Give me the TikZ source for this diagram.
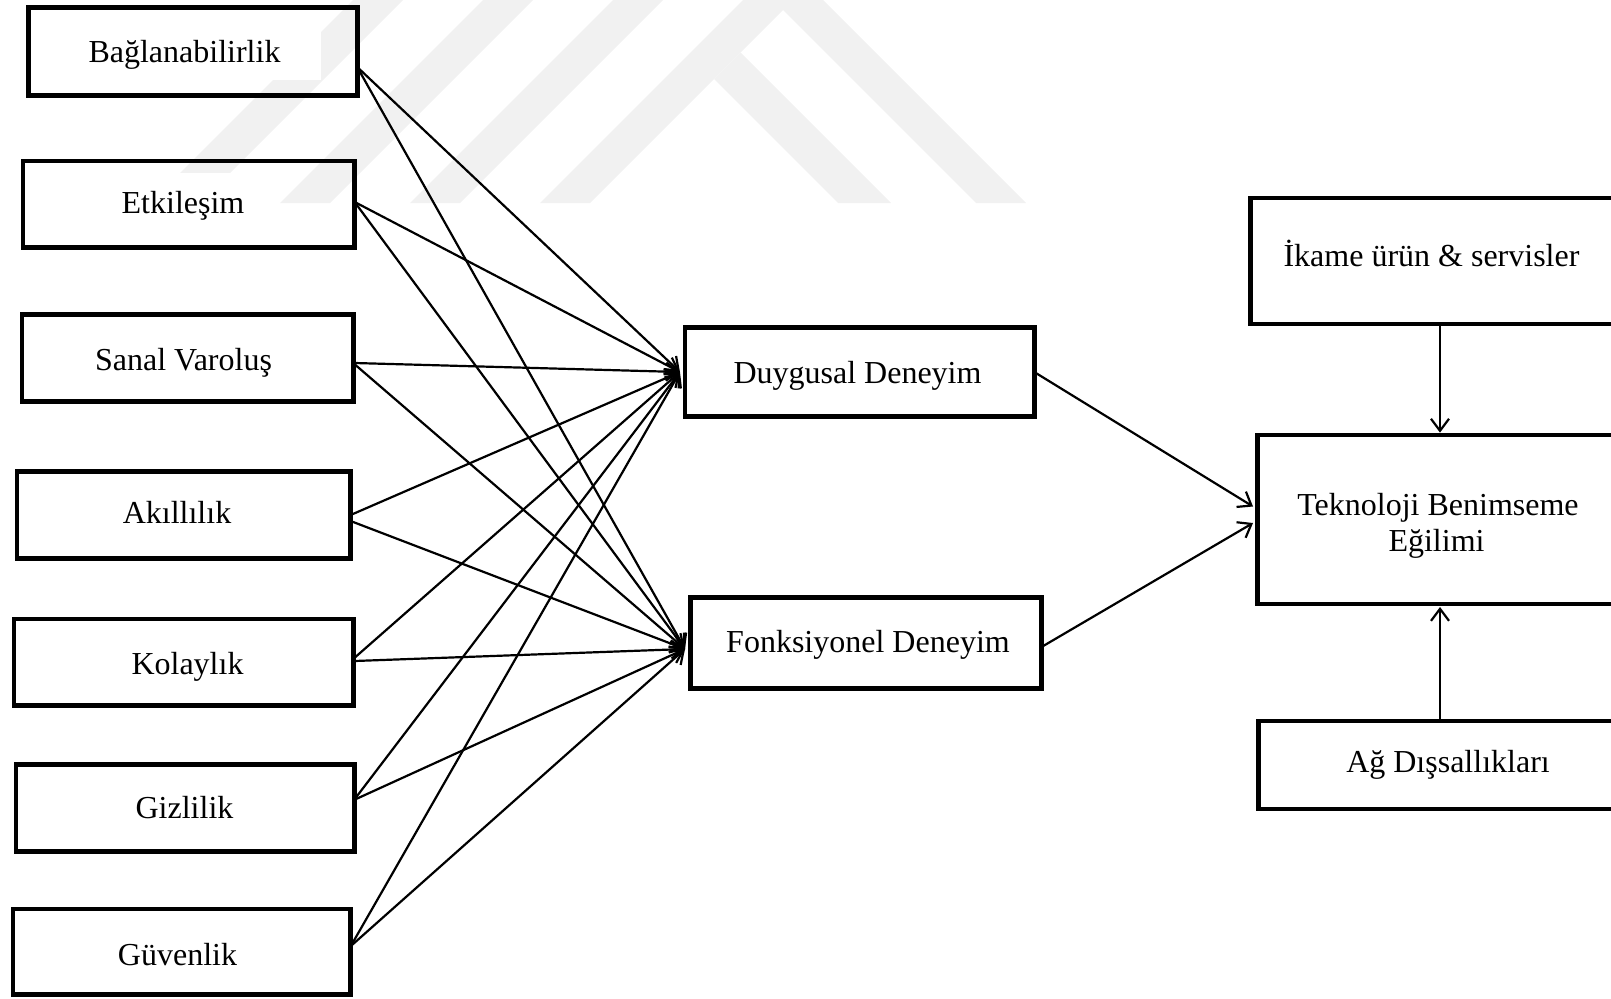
\documentclass[tikz,border=0pt]{standalone}
\usepackage{fontspec}
\setmainfont{Liberation Serif}
\usetikzlibrary{arrows.meta}
\definecolor{wm}{HTML}{F1F1F1}
\begin{document}
\begin{tikzpicture}[x=0.5pt,y=-0.5pt,
  box/.style={draw, line width=2.4pt, inner sep=0pt, outer sep=0pt},
  lbl/.style={font=\fontsize{16pt}{18pt}\selectfont, inner sep=0pt, anchor=base},
  link/.style={line width=1.1pt, -{Straight Barb[length=6pt,width=9pt]}}]
\useasboundingbox (0,0) rectangle (1611,998);
\clip (0,0) rectangle (1611,998);

% faint background emblem: slanted bars and an open chevron
\fill[wm] (353,0) -- (403,0) -- (200,203) -- (150,203) -- cycle;
\fill[wm] (483,0) -- (533,0) -- (330,203) -- (280,203) -- cycle;
\fill[wm] (613,0) -- (663,0) -- (460,203) -- (410,203) -- cycle;
\fill[wm] (540,203) -- (743,0) -- (823,0) -- (1026,203) -- (976,203)
          -- (783,10) -- (590,203) -- cycle;
\fill[wm] (714,79) -- (740.5,52.5) -- (891,203) -- (838,203) -- cycle;

% white text-box backgrounds
\fill[white] (87,22) rectangle (321,80);
\fill[white] (115,173) rectangle (279,235);

% antecedent boxes
\node[box, minimum width=164.55pt, minimum height=43.9pt]  (b1) at (192.65,51.3) {};
\node[box, minimum width=165.85pt, minimum height=43.35pt] (b2) at (188.75,204.25) {};
\node[box, minimum width=165.6pt,  minimum height=43.35pt] (b3) at (187.5,357.75) {};
\node[box, minimum width=166.85pt, minimum height=43.6pt]  (b4) at (183.75,515) {};
\node[box, minimum width=169.6pt,  minimum height=43.35pt] (b5) at (183.5,662.25) {};
\node[box, minimum width=169.1pt,  minimum height=43.2pt]  (b6) at (185,807.9) {};
\node[box, minimum width=168.95pt, minimum height=42.65pt] (b7) at (181.85,951.55) {};

% experience boxes
\node[box, minimum width=174.65pt, minimum height=44.5pt] (d) at (859.6,372) {};
\node[box, minimum width=175.5pt,  minimum height=45.4pt] (f) at (866,643) {};

% outcome and moderators
\node[box, minimum width=189.6pt, minimum height=63pt]   (ik) at (1440,261) {};
\node[box, minimum width=182.6pt, minimum height=84.5pt] (tk) at (1440,519.5) {};
\node[box, minimum width=181.6pt, minimum height=44pt]   (ag) at (1440,765) {};

% labels
\node[lbl] (t1) at (184.5,62)  {Bağlanabilirlik};
\node[lbl] (t2) at (183,213)   {Etkileşim};
\node[lbl] (t3) at (183.5,370) {Sanal Varoluş};
\node[lbl] (t4) at (177,523)   {Akıllılık};
\node[lbl] (t5) at (187.5,674) {Kolaylık};
\node[lbl] (t6) at (184.5,818) {Gizlilik};
\node[lbl] (t7) at (177.5,965) {Güvenlik};
\node[lbl] (td) at (857.5,383) {Duygusal Deneyim};
\node[lbl] (tf) at (868,652)   {Fonksiyonel Deneyim};
\node[lbl] (tik) at (1431.5,266) {İkame ürün \& servisler};
\node[lbl] (ttk1) at (1438,515)  {Teknoloji Benimseme};
\node[lbl] (ttk2) at (1436.5,551) {Eğilimi};
\node[lbl] (tag) at (1448,772)   {Ağ Dışsallıkları};

% arrow end points on the experience boxes
\coordinate (dIn) at ([xshift=-2.5pt]d.west);
\coordinate (fIn) at ([xshift=-2.75pt,yshift=-3pt]f.west);

% antecedents -> experiences
\draw[link] ([yshift=-7.85pt]b1.east) -- (dIn);
\draw[link] ([yshift=-7.85pt]b1.east) -- (fIn);
\draw[link] ([yshift=1.15pt]b2.east) -- (dIn);
\draw[link] ([yshift=1.15pt]b2.east) -- (fIn);
\draw[link] ([yshift=-2.6pt]b3.east) -- (dIn);
\draw[link] ([yshift=-2.6pt]b3.east) -- (fIn);
\draw[link] (b4.east) -- (dIn);
\draw[link] ([yshift=-3pt]b4.east) -- (fIn);
\draw[link] ([yshift=1.6pt]b5.east) -- (dIn);
\draw[link] ([yshift=0.6pt]b5.east) -- (fIn);
\draw[link] ([yshift=4pt]b6.east) -- (dIn);
\draw[link] ([yshift=4pt]b6.east) -- (fIn);
\draw[link] ([yshift=2.75pt]b7.east) -- (dIn);
\draw[link] ([yshift=2.75pt]b7.east) -- (fIn);

% experiences -> adoption tendency
\draw[link] (d.east) -- ([xshift=-2.2pt,yshift=6.5pt]tk.west);
\draw[link] ([yshift=-2pt]f.east) -- ([xshift=-2.2pt,yshift=-1.75pt]tk.west);

% moderators
\draw[link] (ik.south) -- ([yshift=1.2pt]tk.north);
\draw[link] (ag.north) -- ([yshift=-1.5pt]tk.south);
\end{tikzpicture}
\end{document}
